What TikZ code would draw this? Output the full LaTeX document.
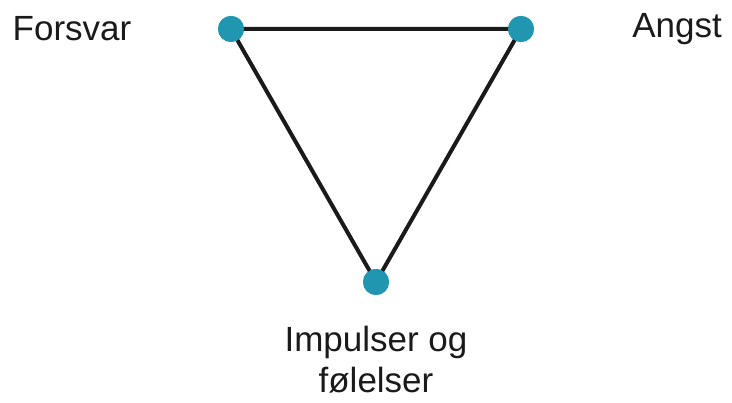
\documentclass[tikz,border=0pt]{standalone}
\usepackage{fontspec}
\setmainfont{Liberation Sans}
\definecolor{dotc}{HTML}{2196B0}
\definecolor{linec}{HTML}{1A1A1A}
\begin{document}
\begin{tikzpicture}[x=1pt,y=1pt,
  dot/.style={circle,fill=dotc,inner sep=0pt,minimum size=26pt},
  lbl/.style={font=\fontsize{35}{41}\selectfont,text=linec,align=center},
  edge/.style={draw=linec,line width=4pt}]
\useasboundingbox (0,0) rectangle (732,403);
\node[dot] (f) at (231,374) {};
\node[dot] (a) at (521,374) {};
\node[dot] (i) at (376,121) {};
\draw[edge] (f.center) -- (a.center) -- (i.center) -- cycle;
\node[dot] at (f) {};
\node[dot] at (a) {};
\node[dot] at (i) {};
\node[lbl] (tf) at (72,374) {Forsvar};
\node[lbl] (ta) at (677,374) {Angst};
\node[lbl] (ti) at (376,43) {Impulser og\\følelser};
\end{tikzpicture}
\end{document}
